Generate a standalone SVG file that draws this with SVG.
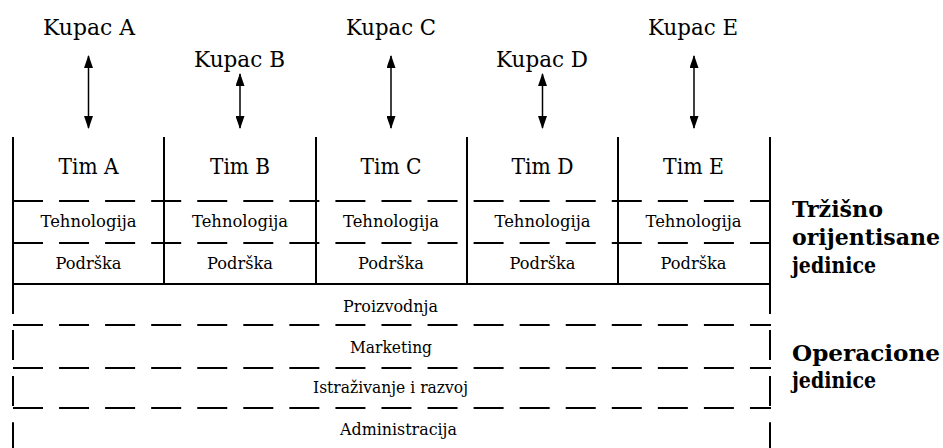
<svg xmlns="http://www.w3.org/2000/svg" width="943" height="448" viewBox="0 0 943 448">
  <style>
    .t { font-family: "DejaVu Serif", "Liberation Serif", serif; fill: #000; text-anchor: middle; }
    .big { font-size: 22px; }
    .small { font-size: 17.5px; }
    .bold { font-family: "DejaVu Serif", "Liberation Serif", serif; font-weight: bold; font-size: 22px; fill: #000; }
    .solid { stroke: #000; stroke-width: 2; fill: none; }
    .dash { stroke: #000; stroke-width: 2; fill: none; stroke-dasharray: 30 16.06; }
    .arrow { stroke: #000; stroke-width: 1.5; fill: none; marker-start: url(#head); marker-end: url(#head); }
  </style>
  <defs>
    <marker id="head" viewBox="0 0 13 9" refX="12" refY="4.5" markerWidth="13" markerHeight="9" markerUnits="userSpaceOnUse" orient="auto-start-reverse">
      <path d="M0,0 L13,4.5 L0,9 Z" fill="#000"/>
    </marker>
  </defs>

  <rect width="943" height="448" fill="#fff"/>

  <!-- customers -->
  <g id="kupac-a"><text class="t big" x="89" y="35" textLength="92" lengthAdjust="spacingAndGlyphs">Kupac A</text></g>
  <g id="kupac-b"><text class="t big" x="239.5" y="67" textLength="91" lengthAdjust="spacingAndGlyphs">Kupac B</text></g>
  <g id="kupac-c"><text class="t big" x="391" y="35" textLength="90" lengthAdjust="spacingAndGlyphs">Kupac C</text></g>
  <g id="kupac-d"><text class="t big" x="542" y="67" textLength="92" lengthAdjust="spacingAndGlyphs">Kupac D</text></g>
  <g id="kupac-e"><text class="t big" x="693" y="35" textLength="90" lengthAdjust="spacingAndGlyphs">Kupac E</text></g>

  <!-- connectors between customers and teams -->
  <g id="connectors">
    <line class="arrow" x1="88.5" y1="56" x2="88.5" y2="128"/>
    <line class="arrow" x1="240" y1="74" x2="240" y2="128"/>
    <line class="arrow" x1="391" y1="56" x2="391" y2="128"/>
    <line class="arrow" x1="542.5" y1="74" x2="542.5" y2="128"/>
    <line class="arrow" x1="694" y1="56" x2="694" y2="128"/>
  </g>

  <!-- market-oriented units: team columns -->
  <g id="trzisne-jedinice">
    <line class="solid" x1="13" y1="137" x2="13" y2="285"/>
    <line class="solid" x1="164" y1="137" x2="164" y2="284"/>
    <line class="solid" x1="316" y1="137" x2="316" y2="284"/>
    <line class="solid" x1="467" y1="137" x2="467" y2="284"/>
    <line class="solid" x1="618" y1="137" x2="618" y2="284"/>
    <line class="solid" x1="770" y1="137" x2="770" y2="285"/>
    <line class="dash" x1="13" y1="201" x2="771" y2="201"/>
    <line class="dash" x1="13" y1="243" x2="771" y2="243"/>
    <line class="solid" x1="12" y1="284" x2="771" y2="284"/>
  </g>

  <g id="tim-a">
    <text class="t big" x="88.5" y="173.5" textLength="60" lengthAdjust="spacingAndGlyphs">Tim A</text>
    <text class="t small" x="88.5" y="227" textLength="96" lengthAdjust="spacingAndGlyphs">Tehnologija</text>
    <text class="t small" x="88.5" y="268.5" textLength="66" lengthAdjust="spacingAndGlyphs">Podrška</text>
  </g>
  <g id="tim-b">
    <text class="t big" x="240" y="173.5" textLength="60" lengthAdjust="spacingAndGlyphs">Tim B</text>
    <text class="t small" x="240" y="227" textLength="96" lengthAdjust="spacingAndGlyphs">Tehnologija</text>
    <text class="t small" x="240" y="268.5" textLength="66" lengthAdjust="spacingAndGlyphs">Podrška</text>
  </g>
  <g id="tim-c">
    <text class="t big" x="391" y="173.5" textLength="61" lengthAdjust="spacingAndGlyphs">Tim C</text>
    <text class="t small" x="391" y="227" textLength="96" lengthAdjust="spacingAndGlyphs">Tehnologija</text>
    <text class="t small" x="391" y="268.5" textLength="66" lengthAdjust="spacingAndGlyphs">Podrška</text>
  </g>
  <g id="tim-d">
    <text class="t big" x="542.5" y="173.5" textLength="62" lengthAdjust="spacingAndGlyphs">Tim D</text>
    <text class="t small" x="542.5" y="227" textLength="96" lengthAdjust="spacingAndGlyphs">Tehnologija</text>
    <text class="t small" x="542.5" y="268.5" textLength="66" lengthAdjust="spacingAndGlyphs">Podrška</text>
  </g>
  <g id="tim-e">
    <text class="t big" x="693.5" y="173.5" textLength="61" lengthAdjust="spacingAndGlyphs">Tim E</text>
    <text class="t small" x="693.5" y="227" textLength="96" lengthAdjust="spacingAndGlyphs">Tehnologija</text>
    <text class="t small" x="693.5" y="268.5" textLength="66" lengthAdjust="spacingAndGlyphs">Podrška</text>
  </g>

  <!-- operational units: shared rows -->
  <g id="operacione-jedinice">
    <line class="dash" x1="13" y1="284" x2="13" y2="448"/>
    <line class="dash" x1="770" y1="284" x2="770" y2="448"/>
    <line class="dash" x1="13" y1="325" x2="771" y2="325"/>
    <line class="dash" x1="13" y1="368" x2="771" y2="368"/>
    <line class="dash" x1="13" y1="408" x2="771" y2="408"/>
  </g>
  <g id="proizvodnja"><text class="t small" x="390.5" y="312" textLength="95" lengthAdjust="spacingAndGlyphs">Proizvodnja</text></g>
  <g id="marketing"><text class="t small" x="391" y="353" textLength="82" lengthAdjust="spacingAndGlyphs">Marketing</text></g>
  <g id="istrazivanje"><text class="t small" x="390.5" y="393" textLength="155" lengthAdjust="spacingAndGlyphs">Istraživanje i razvoj</text></g>
  <g id="administracija"><text class="t small" x="398.5" y="435" textLength="117" lengthAdjust="spacingAndGlyphs">Administracija</text></g>

  <!-- side captions -->
  <g id="label-trzisno">
    <text class="bold" x="792" y="217" textLength="91" lengthAdjust="spacingAndGlyphs">Tržišno</text>
    <text class="bold" x="792" y="245" textLength="148" lengthAdjust="spacingAndGlyphs">orijentisane</text>
    <text class="bold" x="792" y="273" textLength="84" lengthAdjust="spacingAndGlyphs">jedinice</text>
  </g>
  <g id="label-operacione">
    <text class="bold" x="792" y="361" textLength="148" lengthAdjust="spacingAndGlyphs">Operacione</text>
    <text class="bold" x="792" y="388" textLength="84" lengthAdjust="spacingAndGlyphs">jedinice</text>
  </g>
</svg>
